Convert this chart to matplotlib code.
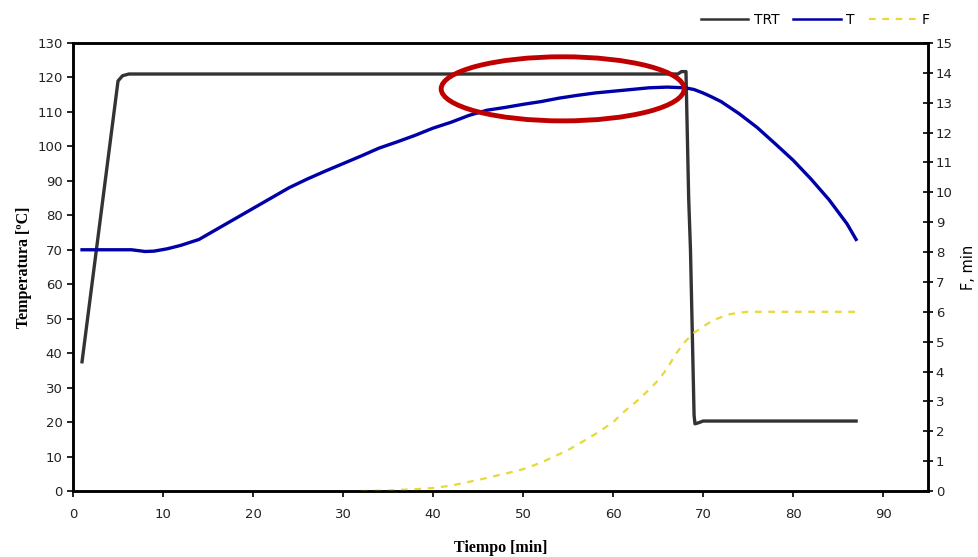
import matplotlib
matplotlib.use("Agg")
import matplotlib.pyplot as plt
from matplotlib.patches import Ellipse
from matplotlib.lines import Line2D

# Retort temperature (TRT)
trt_time = [1.0, 5.0, 5.5, 6.2, 67.2, 67.6, 68.1, 68.4, 68.6, 69.0, 69.1, 69.5, 70.0, 87.0]
trt_temp = [37.5, 119.0, 120.5, 121.0, 121.0, 121.7, 121.7, 85.0, 70.0, 22.0, 19.5, 19.8, 20.3, 20.3]

# Product temperature (T)
t_time = [1, 6.5, 8, 9, 10.5, 12, 14, 16, 18, 20, 22, 24, 26, 28, 30, 32, 34, 36, 38,
          40, 42, 44, 46, 48, 50, 52, 54, 56, 58, 60, 62, 64, 66, 68, 69, 70, 71, 72,
          74, 76, 78, 80, 82, 84, 86, 87]
t_temp = [70, 70, 69.5, 69.6, 70.3, 71.3, 73, 76, 79, 82, 85, 88, 90.5, 92.8, 95, 97.2,
          99.5, 101.3, 103.2, 105.3, 107, 109, 110.5, 111.3, 112.2, 113, 114, 114.8, 115.5,
          116, 116.5, 117, 117.2, 117, 116.5, 115.5, 114.3, 113, 109.5, 105.5, 100.8, 96,
          90.5, 84.5, 77.5, 73]

# Lethality (F)
f_time = [32, 35, 38, 40, 42, 45, 48, 50, 52, 55, 58, 60, 61, 62, 63, 64, 65, 66, 67,
          68, 69, 70, 71, 72, 73, 74, 75, 77, 87]
f_val = [0, 0.02, 0.06, 0.1, 0.18, 0.37, 0.58, 0.73, 0.95, 1.37, 1.9, 2.3, 2.6, 2.85,
         3.1, 3.4, 3.7, 4.1, 4.6, 5.0, 5.3, 5.5, 5.7, 5.82, 5.92, 5.97, 6.0, 6.0, 6.0]

c_trt = "#333333"
c_t = "#0000a8"
c_f = "#e8d838"

fig = plt.figure(figsize=(9.79, 5.57), dpi=100)
ax = fig.add_axes([0.0746, 0.1185, 0.8734, 0.8043])
ax2 = ax.twinx()

ax.plot(trt_time, trt_temp, color=c_trt, lw=2.4, zorder=3)
ax.plot(t_time, t_temp, color=c_t, lw=2.4, zorder=4)
ax2.plot(f_time, f_val, color=c_f, lw=1.6, ls=(0, (3, 3)))

ax.set_xlim(0, 95)
ax.set_ylim(0, 130)
ax2.set_ylim(0, 15)
ax.set_xticks(range(0, 100, 10))
ax.set_yticks(range(0, 131, 10))
ax2.set_yticks(range(0, 16))

ax.tick_params(axis="both", direction="out", length=4, width=1.2, labelsize=9.5,
               labelcolor="#222222")
ax.tick_params(axis="x", pad=8)
ax2.tick_params(axis="y", direction="inout", length=7, width=1.2, labelsize=9.5,
                labelcolor="#222222", pad=2)

for a in (ax, ax2):
    for s in a.spines.values():
        s.set_linewidth(1.8)
        s.set_color("black")

ax.set_xlabel("Tiempo [min]", fontfamily="Liberation Serif", fontweight="bold",
              fontsize=11.5, labelpad=14)
ax.set_ylabel("Temperatura [ºC]", fontfamily="Liberation Serif", fontweight="bold",
              fontsize=11.5, labelpad=4)
ax2.set_ylabel("F, min", fontsize=10.5, labelpad=6)

# highlight of the holding phase
ax.add_patch(Ellipse((54.4, 116.7), 27.0, 18.6, fill=False,
                     edgecolor="#c00000", lw=3.5, zorder=5, clip_on=False))

handles = [Line2D([], [], color=c_trt, lw=1.8),
           Line2D([], [], color=c_t, lw=1.8),
           Line2D([], [], color=c_f, lw=1.6, ls=(0, (3, 3)))]
fig.legend(handles, ["TRT", "T", "F"], loc="upper right", bbox_to_anchor=(0.962, 1.0),
           ncol=3, frameon=False, fontsize=10, handlelength=3.4, columnspacing=1.0,
           handletextpad=0.4)

fig.savefig("out.png", dpi=100)
